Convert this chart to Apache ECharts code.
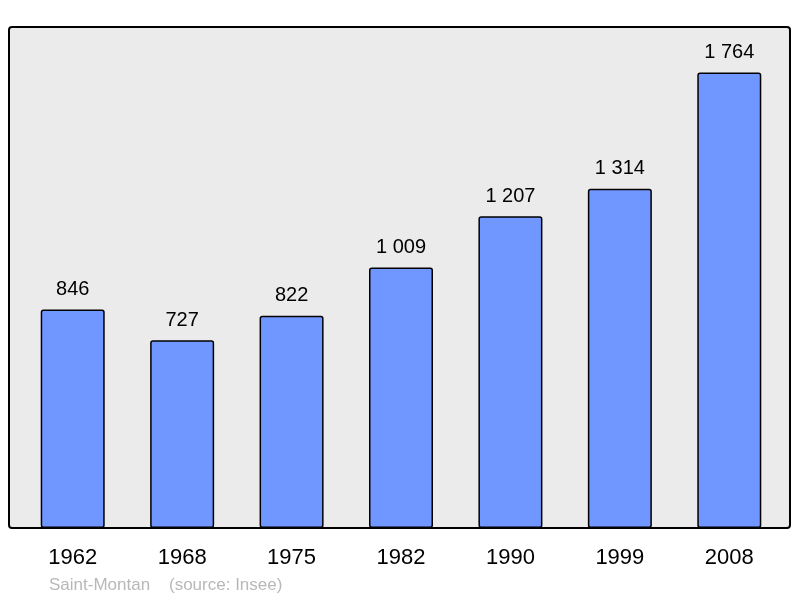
<!DOCTYPE html>
<html>
<head>
<meta charset="utf-8">
<title>Saint-Montan</title>
<script src="https://cdn.jsdelivr.net/npm/echarts@6/dist/echarts.min.js"></script>
<style>
  html, body { margin: 0; padding: 0; background: #fff; }
  #chart { width: 800px; height: 598px; }
</style>
</head>
<body>
<div id="chart"></div>
<script>
// population par recensement
const annees = ['1962', '1968', '1975', '1982', '1990', '1999', '2008'];
const population = [846, 727, 822, 1009, 1207, 1314, 1764];
const commune = 'Saint-Montan';
const source = '(source: Insee)';

function fmt(v) {
    // séparateur des milliers : espace
    return String(v).replace(/\B(?=(\d{3})+(?!\d))/g, ' ');
}

const chart = echarts.init(document.getElementById('chart'));

chart.setOption({
    animation: false,
    textStyle: { fontFamily: 'Liberation Sans, Arial, sans-serif' },
    grid: { left: 18, right: 16, top: 27, bottom: 70 },
    graphic: [
        {
            type: 'rect',
            z: -10,
            shape: { x: 9, y: 27, width: 781, height: 501, r: 3 },
            style: { fill: '#ebebeb', stroke: '#000', lineWidth: 2 }
        },
        {
            type: 'text',
            left: 49,
            top: 577,
            style: {
                text: commune + '    ' + source,
                fill: '#b8b8b8',
                font: '17px Liberation Sans, Arial, sans-serif'
            }
        }
    ],
    xAxis: {
        type: 'category',
        data: annees,
        axisLine: { show: false },
        axisTick: { show: false },
        axisLabel: {
            color: '#000',
            fontSize: 22,
            margin: 19
        }
    },
    yAxis: {
        type: 'value',
        min: 0,
        max: 1940,
        show: false,
        splitLine: { show: false }
    },
    series: [{
        type: 'bar',
        data: population,
        barWidth: 64,
        itemStyle: {
            color: '#7096ff',
            borderColor: '#000',
            borderWidth: 1.5,
            borderRadius: 2
        },
        label: {
            show: true,
            position: 'top',
            distance: 10,
            color: '#000',
            fontSize: 20,
            formatter: function (p) { return fmt(p.value); }
        }
    }]
});
</script>
</body>
</html>
